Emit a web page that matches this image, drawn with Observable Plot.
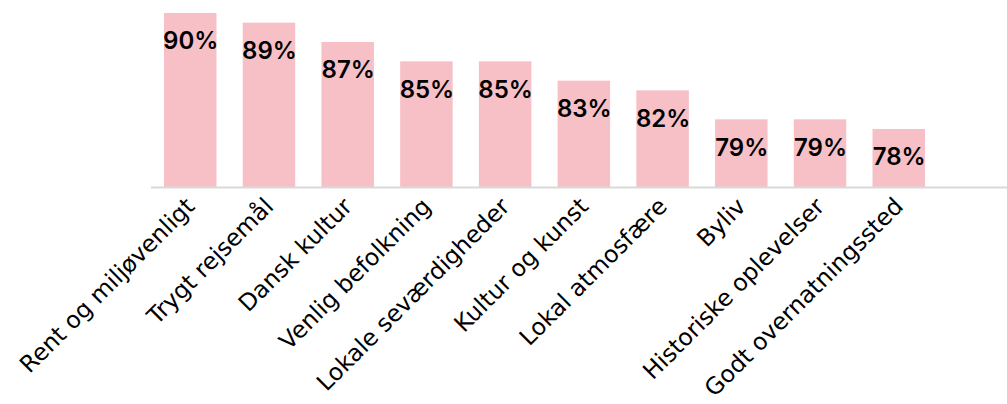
<!DOCTYPE html>
<html>
<head>
<meta charset="utf-8">
<script src="https://cdn.jsdelivr.net/npm/d3@7"></script>
<script src="https://cdn.jsdelivr.net/npm/@observablehq/plot@0.6"></script>
<style>
  html, body { margin: 0; padding: 0; background: #fff; }
  #chart { width: 1007px; height: 404px; overflow: hidden; }
</style>
</head>
<body>
<div id="chart"></div>
<script>
const categories = ["Rent og miljøvenligt","Trygt rejsemål","Dansk kultur","Venlig befolkning","Lokale seværdigheder","Kultur og kunst","Lokal atmosfære","Byliv","Historiske oplevelser","Godt overnatningssted"];
const values = [90, 89, 87, 85, 85, 83, 82, 79, 79, 78];
const yMin = 72;
const yMax = 90;

const data = categories.map((c, i) => ({category: c, value: values[i]}));

const chart = Plot.plot({
  width: 1007,
  height: 404,
  marginLeft: 151,
  marginRight: 0,
  marginTop: 13,
  marginBottom: 217,
  style: {fontFamily: "Inter, sans-serif", background: "#fff"},
  x: {domain: categories, paddingInner: 0.333, paddingOuter: 0.165, insetRight: 69, round: false, label: null},
  y: {domain: [yMin, yMax], axis: null},
  marks: [
    Plot.barY(data, {x: "category", y1: yMin, y2: "value", fill: "#f7c0c7"}),
    Plot.ruleY([yMin], {stroke: "#d9d9d9", strokeWidth: 2}),
    Plot.text(data, {x: "category", y: "value", text: d => d.value + "%", dy: 28, fontSize: 24, fontWeight: 600, fill: "#000"}),
    Plot.axisX({tickRotate: -45, tickSize: 0, tickPadding: 15, fontSize: 23.5, fontFamily: "DejaVu Sans", fill: "#000", stroke: "#000", strokeWidth: 0.35, label: null})
  ]
});
document.getElementById("chart").appendChild(chart);
</script>
</body>
</html>
